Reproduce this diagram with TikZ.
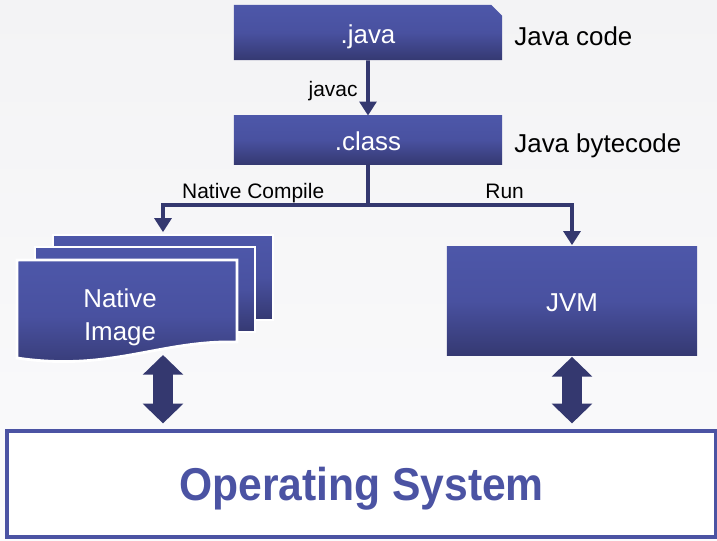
\documentclass[tikz,border=0pt]{standalone}
\usepackage{fontspec}
\setmainfont{Liberation Sans}
\usetikzlibrary{positioning,arrows.meta,shapes.misc}
\definecolor{boxtop}{HTML}{4D57A9}
\definecolor{boxmid}{HTML}{4951A0}
\definecolor{boxbot}{HTML}{353972}
\definecolor{navy}{HTML}{34386F}
\definecolor{osblue}{HTML}{4B53A3}
\definecolor{bgtop}{HTML}{F3F3F5}
\definecolor{bgbot}{HTML}{FBFBFC}
\begin{document}
\begin{tikzpicture}[x=0.025cm, y=-0.025cm, semithick,
  boxtext/.style = {text=white, font=\fontsize{18.4}{23.4}\selectfont, inner sep=0pt},
  box/.style = {boxtext, text height=15.6pt, text depth=0pt,
                top color=boxtop, bottom color=boxbot, middle color=boxmid},
  doc/.style = {draw=white, line width=2pt, top color=boxtop, bottom color=boxbot, middle color=boxmid},
  note/.style = {font=\fontsize{18.4}{22}\selectfont, inner sep=0pt, anchor=base west},
  lbl/.style = {font=\fontsize{14.9}{18}\selectfont},
  conn/.style = {draw=navy, line width=2.8pt},
  tip/.style = {-{Triangle[width=12pt,length=10pt]}},
  fat/.style = {draw=navy, line width=14pt, {Triangle[width=28pt,length=14pt]}-{Triangle[width=28pt,length=14pt]}}]
    \useasboundingbox[top color=bgtop, bottom color=bgbot] (0,0) rectangle (717,540);

    % source and bytecode
    \node[box, chamfered rectangle, chamfered rectangle corners=north east,
          chamfered rectangle xsep=4pt, minimum width=6.7cm, minimum height=1.375cm] (java) at (368,32.5) {.java};
    \node[box, minimum width=6.7cm, minimum height=1.2cm] (class) at (368,140) {.class};
    \node[note] (jcode) at (514,45) {Java code};
    \node[note] (jbyte) at (514,152) {Java bytecode};
    \coordinate (split) at (368,205);

    % native image stack
    \node[doc, minimum width=5.5cm, minimum height=2.125cm] (back) at (163,277.5) {};
    \node[doc, minimum width=5.5cm, minimum height=2.125cm] (mid) at (145,289.5) {};
    \path[doc] (17,260) -- (237,260) -- (237,342)
        .. controls (160,340) and (110,372) .. (17,358) -- cycle;
    \node[boxtext, align=center] (natimg) at (120,317) {Native\\Image};
    \coordinate (docbot) at (163,355);

    % virtual machine
    \node[box, minimum width=6.25cm, minimum height=2.7cm] (jvm) at (572,301) {JVM};

    % operating system
    \node[draw=osblue, line width=2.8pt, fill=white, minimum width=17.725cm, minimum height=2.65cm,
          text height=24pt, text depth=0pt, text=osblue,
          font=\fontsize{30.3}{34}\selectfont\bfseries] (os) at (361.5,484) {\scalebox{1}[1.08]{Operating System}};

    \draw[conn, tip] (java) -- node[lbl, left, inner sep=6pt, yshift=-2pt] {javac} (class);
    \draw[conn] (class) -- (split);
    \draw[conn, tip, shorten >=1pt] (split) -| node[lbl, text depth=0pt, pos=.28, above] {Native Compile} (back);
    \draw[conn, tip, shorten >=1pt] (split) -| node[lbl, text depth=0pt, pos=.335, above] {Run} (jvm);

    \draw[fat, shorten >=4pt] (docbot) -- (docbot |- os.north);
    \draw[fat, shorten <=1pt, shorten >=4pt] (jvm.south) -- (jvm.south |- os.north);
\end{tikzpicture}
\end{document}
